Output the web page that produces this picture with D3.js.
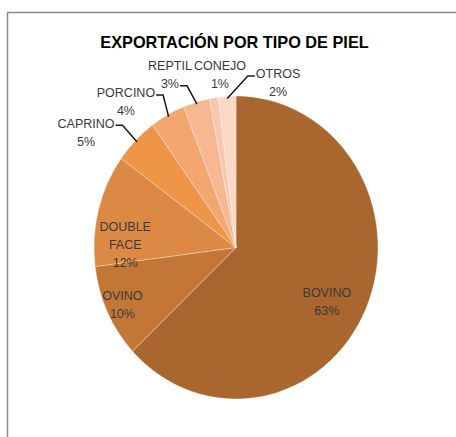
<!DOCTYPE html>
<meta charset="utf-8">
<style>
body { margin: 0; background: #fff; }
text { font-family: "Liberation Sans", Arial, sans-serif; fill: #3a3a3a; }
.title { font-size: 16.3px; font-weight: bold; fill: #000; }
.lbl { font-size: 12.5px; }
.leader { fill: none; stroke: #1a1a1a; stroke-width: 1.5px; }
</style>
<body>
<script src="https://d3js.org/d3.v7.min.js"></script>
<script>

var categories = ["BOVINO", "OVINO", "DOUBLE FACE", "CAPRINO", "PORCINO", "REPTIL", "CONEJO", "OTROS"];
var shares = [63, 10, 12, 5, 4, 3, 1, 2];
var colors = ["#A9662E", "#C37737", "#DB8944", "#EE9548", "#F4A66F", "#F7B793", "#F9C7AF", "#FBD7C6"];
var nameLines = [["BOVINO"], ["OVINO"], ["DOUBLE", "FACE"], ["CAPRINO"], ["PORCINO"], ["REPTIL"], ["CONEJO"], ["OTROS"]];

// label block centre, in radius units from pie centre; leader: which line it hooks on, side
var labelLayout = [
  {pos: [0.64, 0.36]},
  {pos: [-0.80, 0.38]},
  {pos: [-0.78, -0.02]},
  {pos: [-1.056, -0.76], hook: 0, side: -1},
  {pos: [-0.775, -0.96], hook: 0, side: -1},
  {pos: [-0.465, -1.14], hook: 1, side: -1},
  {pos: [-0.113, -1.14]},
  {pos: [0.296, -1.086], hook: 0, side: 1}
];

var width = 456, height = 437;
var cx = 236, cy = 247.5, rx = 142, ry = 151.5;
var lineGap = 18;

var svg = d3.select("body").append("svg")
    .attr("width", width)
    .attr("height", height);

svg.append("rect")
    .attr("x", 7.5).attr("y", 12.5)
    .attr("width", 470).attr("height", 450)
    .attr("fill", "#fff")
    .attr("stroke", "#8a8a8a")
    .attr("stroke-width", 1.5);

svg.append("text")
    .attr("class", "title")
    .attr("x", 234.5)
    .attr("y", 48)
    .attr("text-anchor", "middle")
    .text("EXPORTACIÓN POR TIPO DE PIEL");

var pie = d3.pie().sort(null).value(d => d);
var arcs = pie(shares);

var arc = d3.arc().innerRadius(0).outerRadius(rx);

var pieG = svg.append("g")
    .attr("transform", `translate(${cx},${cy}) scale(1,${ry / rx})`);

pieG.selectAll("path")
    .data(arcs)
  .enter().append("path")
    .attr("d", arc)
    .attr("fill", (d, i) => colors[i])
    .attr("stroke", "#fff")
    .attr("stroke-opacity", 0.5)
    .attr("stroke-width", 0.6);

// labels
arcs.forEach(function(d, i) {
  var lay = labelLayout[i];
  var lines = nameLines[i].concat([shares[i] + "%"]);
  var bx = cx + lay.pos[0] * rx;
  var by = cy + lay.pos[1] * ry;
  var n = lines.length;

  var texts = lines.map(function(t, k) {
    return svg.append("text")
        .attr("class", "lbl")
        .attr("x", bx)
        .attr("y", by + (k - (n - 1) / 2) * lineGap)
        .attr("dy", "0.35em")
        .attr("text-anchor", "middle")
        .text(t);
  });

  if (lay.hook !== undefined) {
    var t = texts[lay.hook];
    var w = t.node().getComputedTextLength();
    var ty = +t.attr("y") + 2;
    var edge = lay.side < 0 ? bx + w / 2 : bx - w / 2;
    var mid = (d.startAngle + d.endAngle) / 2;
    var px = cx + rx * 0.985 * Math.sin(mid);
    var py = cy - ry * 0.985 * Math.cos(mid);
    svg.append("path")
        .attr("class", "leader")
        .attr("d", d3.line()([
          [edge - lay.side * 1, ty],
          [edge - lay.side * 8, ty],
          [px, py]
        ]));
  }
});

</script>
